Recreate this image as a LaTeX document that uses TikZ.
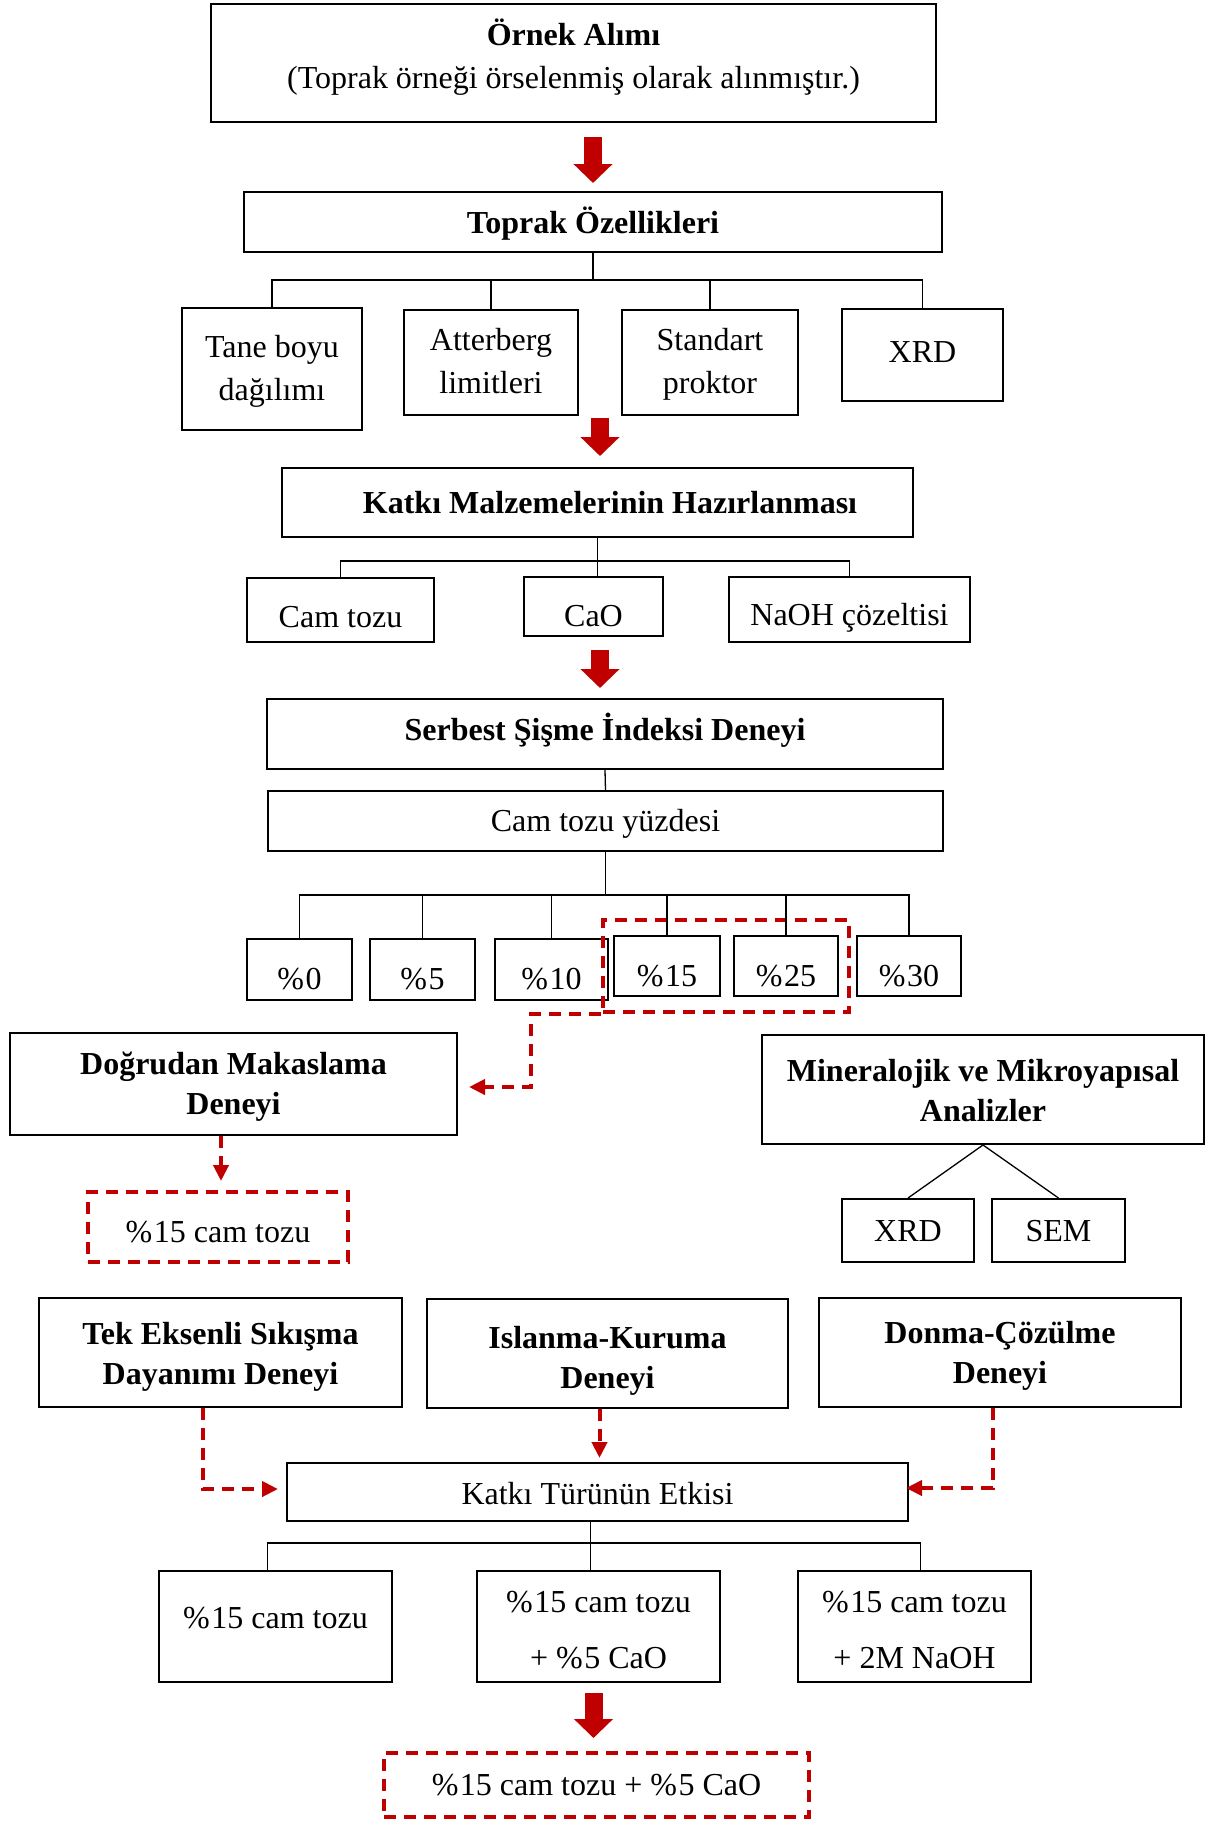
\documentclass[tikz,border=0pt]{standalone}
\usepackage{fontspec}
\setmainfont{Liberation Serif}
\usetikzlibrary{arrows.meta,fit,calc}
\definecolor{dred}{HTML}{C00000}
\newcommand{\pctsign}{\%\kern1.5pt}
\begin{document}
\begin{tikzpicture}[x=1pt,y=-1pt,
  box/.style={draw,line width=2pt,inner sep=0pt},
  dbox/.style={draw=dred,line width=4pt,dash pattern=on 12pt off 8pt,inner sep=0pt},
  txt/.style={font=\fontsize{32}{43}\selectfont,align=center,inner sep=0pt},
  btxt/.style={font=\fontsize{32}{40}\selectfont\bfseries,align=center,inner sep=0pt},
  tree/.style={line width=1.3pt},
  rarrow/.style={draw=dred,line width=4pt,dash pattern=on 12pt off 8pt,-{Triangle[length=16pt,width=15pt]}},
  bigarrow/.style={draw=dred,line width=18pt,-{Triangle[length=19pt,width=38pt]}}
]
\useasboundingbox[fill=white] (0,0) rectangle (1210,1821);

% top
\node[box,minimum width=725pt,minimum height=118pt] (ornek) at (573.5,63) {};
\node[txt] (ornek-t) at (573.5,57) {\textbf{Örnek Alımı}\\(Toprak örneği örselenmiş olarak alınmıştır.)};

\node[box,minimum width=698pt,minimum height=60pt] (toprak) at (593,222) {};
\node[btxt] (toprak-t) at (593,224) {Toprak Özellikleri};

\node[box,minimum width=180pt,minimum height=122pt] (tane) at (272,369) {};
\node[txt] (tane-t) at (272,371) {Tane boyu\\dağılımı};
\node[box,minimum width=174pt,minimum height=105pt] (atter) at (491,362.5) {};
\node[txt] (atter-t) at (491,361) {Atterberg\\limitleri};
\node[box,minimum width=176pt,minimum height=105pt] (stand) at (710,362.5) {};
\node[txt] (stand-t) at (710,364.5) {Standart\\proktor};
\node[box,minimum width=161pt,minimum height=92pt] (xrd1) at (922.5,355) {};
\node[txt] (xrd1-t) at (922.5,352) {XRD};

\node[box,minimum width=631pt,minimum height=69pt] (katki) at (597.5,502.5) {};
\node[btxt] (katki-t) at (610,503) {Katkı Malzemelerinin Hazırlanması};

\node[box,minimum width=187pt,minimum height=64pt] (cam) at (340.5,610) {};
\node[txt] (cam-t) at (340.5,617) {Cam tozu};
\node[box,minimum width=139pt,minimum height=59pt] (cao) at (593.5,606.5) {};
\node[txt] (cao-t) at (593.5,616) {CaO};
\node[box,minimum width=241pt,minimum height=65pt] (naoh) at (849.5,609.5) {};
\node[txt] (naoh-t) at (849.5,618) {NaOH çözeltisi};

\node[box,minimum width=676pt,minimum height=70pt] (serbest) at (605,734) {};
\node[btxt] (serbest-t) at (605,730) {Serbest Şişme İndeksi Deneyi};
\node[box,minimum width=675pt,minimum height=60pt] (yuzde) at (605.5,821) {};
\node[txt] (yuzde-t) at (605.5,824) {Cam tozu yüzdesi};

\node[box,minimum width=105pt,minimum height=61pt] (p0) at (299.5,969.5) {};
\node[txt] (p0-t) at (299.5,979) {\pctsign 0};
\node[box,minimum width=105pt,minimum height=61pt] (p5) at (422.5,969.5) {};
\node[txt] (p5-t) at (422.5,979) {\pctsign 5};
\node[box,minimum width=113pt,minimum height=61pt] (p10) at (551.5,969.5) {};
\node[txt] (p10-t) at (551.5,979) {\pctsign 10};
\node[box,minimum width=106pt,minimum height=60pt] (p15) at (667,966) {};
\node[txt] (p15-t) at (667,976) {\pctsign 15};
\node[box,minimum width=104pt,minimum height=60pt] (p25) at (786,966) {};
\node[txt] (p25-t) at (786,976) {\pctsign 25};
\node[box,minimum width=104pt,minimum height=60pt] (p30) at (909,966) {};
\node[txt] (p30-t) at (909,976) {\pctsign 30};
\node[dbox,fit=(p15)(p25),inner xsep=10pt,inner ysep=15pt] (sel) {};

\node[box,minimum width=447pt,minimum height=102pt] (dogru) at (233.5,1084) {};
\node[btxt] (dogru-t) at (233.5,1087) {Doğrudan Makaslama\\Deneyi};
\node[box,minimum width=442pt,minimum height=109pt] (minera) at (983,1089.5) {};
\node[btxt] (minera-t) at (983,1091) {Mineralojik ve Mikroyapısal\\Analizler};
\node[box,minimum width=132pt,minimum height=63pt] (xrd2) at (908,1230.5) {};
\node[txt] (xrd2-t) at (908,1231) {XRD};
\node[box,minimum width=133pt,minimum height=63pt] (sem) at (1058.5,1230.5) {};
\node[txt] (sem-t) at (1058.5,1231) {SEM};
\node[dbox,minimum width=260pt,minimum height=70pt] (cam15a) at (218,1227) {};
\node[txt] (cam15a-t) at (218,1232) {\pctsign 15 cam tozu};

\node[box,minimum width=363pt,minimum height=109pt] (tek) at (220.5,1352.5) {};
\node[btxt] (tek-t) at (220.5,1356.5) {Tek Eksenli Sıkışma\\Dayanımı Deneyi};
\node[box,minimum width=361pt,minimum height=109pt] (islan) at (607.5,1353.5) {};
\node[btxt] (islan-t) at (607.5,1361) {Islanma-Kuruma\\Deneyi};
\node[box,minimum width=362pt,minimum height=109pt] (donma) at (1000,1352.5) {};
\node[btxt] (donma-t) at (1000,1356) {Donma-Çözülme\\Deneyi};

\node[box,minimum width=621pt,minimum height=58pt] (etki) at (597.5,1492) {};
\node[txt] (etki-t) at (597.5,1494) {Katkı Türünün Etkisi};

\node[box,minimum width=233pt,minimum height=111pt] (r1) at (275.5,1626.5) {};
\node[txt] (r1-t) at (275.5,1618) {\pctsign 15 cam tozu};
\node[box,minimum width=243pt,minimum height=111pt] (r2) at (598.5,1626.5) {};
\node[txt,font=\fontsize{32}{56}\selectfont] (r2-t) at (598.5,1630) {\pctsign 15 cam tozu\\+ \pctsign 5 CaO};
\node[box,minimum width=233pt,minimum height=111pt] (r3) at (914.5,1626.5) {};
\node[txt,font=\fontsize{32}{56}\selectfont] (r3-t) at (914.5,1630) {\pctsign 15 cam tozu\\+ 2M NaOH};

\node[dbox,minimum width=425pt,minimum height=64pt] (final) at (596.5,1785) {};
\node[txt] (final-t) at (596.5,1785) {\pctsign 15 cam tozu + \pctsign 5 CaO};

% tree lines
\path (toprak.south) ++(0,27) coordinate (t1);
\draw[tree] (toprak.south) -- (t1);
\draw[tree] (tane.north) |- (t1) -| (xrd1.north);
\draw[tree] (atter.north) -- (atter.north |- t1);
\draw[tree] (stand.north) -- (stand.north |- t1);

\path (katki.south) ++(0,23) coordinate (k1);
\draw[tree] (katki.south) -- (katki.south |- cao.north);
\draw[tree] (cam.north) |- (k1) -| (naoh.north);

\draw[tree] (serbest.south) -- (yuzde.north);
\path (yuzde.south) ++(0,43) coordinate (y1);
\draw[tree] (yuzde.south) -- (y1);
\draw[tree] (p0.north) |- (y1) -| (p30.north);
\draw[tree] (p5.north) -- (p5.north |- y1);
\draw[tree] (p10.north) -- (p10.north |- y1);
\draw[tree] (p15.north) -- (p15.north |- y1);
\draw[tree] (p25.north) -- (p25.north |- y1);

\draw[tree] (xrd2.north) -- (minera.south) -- (sem.north);

\coordinate (e0) at ([xshift=-7pt]etki.south);
\path (e0) ++(0,21) coordinate (e1);
\draw[tree] (e0) -- (e0 |- r2.north);
\draw[tree] ([xshift=-8pt]r1.north) |- (e1) -| ([xshift=6pt]r3.north);

% big red arrows
\draw[bigarrow,shorten <=14pt,shorten >=8pt] (toprak.north |- ornek.south) -- (toprak.north);
\coordinate (a2) at (600,418);
\draw[bigarrow,shorten >=11pt] (a2) -- (a2 |- katki.north);
\draw[bigarrow,shorten <=13pt,shorten >=10pt] (cao.south -| a2) -- (serbest.north -| a2);
\draw[bigarrow,shorten <=10pt,shorten >=13pt] ([xshift=-3pt]final.north |- r2.south) -- ([xshift=-3pt]final.north);

% red dashed arrows
\draw[rarrow,shorten >=11pt] (sel.south west) -- ++(-70,0) |- ([yshift=-3pt]dogru.east);
\draw[rarrow,shorten >=9pt] ([xshift=3pt]cam15a.north |- dogru.south) -- ([xshift=3pt]cam15a.north);
\draw[rarrow,shorten >=8pt] ([xshift=-18pt]tek.south) |- ([yshift=3pt]etki.west);
\draw[rarrow,shorten >=4pt] ([xshift=2pt]etki.north |- islan.south) -- ([xshift=2pt]etki.north);
\draw[rarrow,shorten >=-3pt] ([xshift=-7pt]donma.south) |- ([yshift=4pt]etki.east);
\end{tikzpicture}
\end{document}
